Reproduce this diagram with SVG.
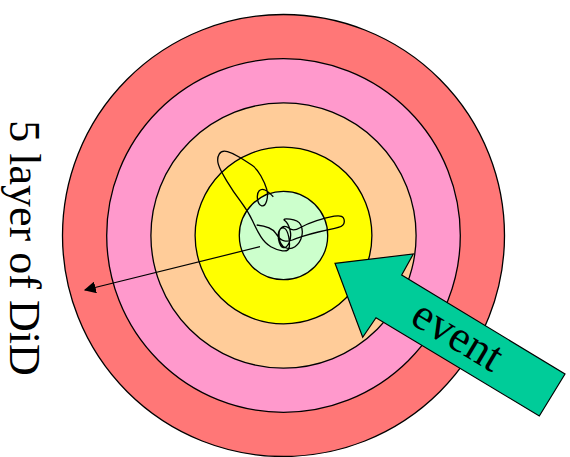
<svg xmlns="http://www.w3.org/2000/svg" width="570" height="457" viewBox="0 0 570 457">
<style>
.ring{stroke:#000;stroke-width:1.3}
.lbl{font-family:"Liberation Serif","Times New Roman",serif;fill:#000}
</style>
<defs>
<marker id="ah" viewBox="0 0 10 10" refX="9" refY="5" markerWidth="12" markerHeight="12" markerUnits="userSpaceOnUse" orient="auto">
<path d="M0,0 L10,5 L0,10 z" fill="#000"/>
</marker>
</defs>
<rect width="570" height="457" fill="#fff"/>
<g id="layers">
<circle id="layer5" class="ring" cx="283.5" cy="235.5" r="221" fill="#FF7777"/>
<circle id="layer4" class="ring" cx="283.5" cy="235.5" r="176.8" fill="#FF99CC"/>
<circle id="layer3" class="ring" cx="283.5" cy="235.5" r="132.6" fill="#FFCC99"/>
<circle id="layer2" class="ring" cx="283.5" cy="235.5" r="88.4" fill="#FFFF00"/>
<circle id="layer1" class="ring" cx="283.5" cy="235.5" r="44.2" fill="#CCFFCC"/>
</g>
<g id="connectors">
<path id="scribble" fill="none" stroke="#000" stroke-width="1.3" d="M273.3,196.7 Q268.3,191.7 265,190 Q261.7,188.3 259.2,190.8 Q256.7,193.3 257.5,199.2 Q258.3,205 261.7,205.8 Q265,206.7 266.7,200.8 Q268.3,195 266.7,189.2 Q265,183.3 260.8,175.8 Q256.7,168.3 251.7,165 Q246.7,161.7 240,157.5 Q233.3,153.3 227.5,151.7 Q221.7,150 219.2,154.2 Q216.7,158.3 218.3,164.2 Q220,170 226.7,180.8 Q233.3,191.7 240.8,201.7 Q248.3,211.7 252.5,220.8 Q256.7,230 260.8,236.7 Q265,243.3 270.8,246.7 Q276.7,250 282.5,250.8 Q288.3,251.7 289.2,247.5 Q290,243.3 288.7,236.7 Q287.3,230 284.5,228.3 Q281.7,226.7 279.5,230 Q277.3,233.3 278.7,240 Q280,246.7 283.3,247.5 Q286.7,248.3 289.2,242.5 Q291.7,236.7 290,230 Q288.3,223.3 285,220.8 Q281.7,218.3 290,219.2 Q298.3,220 300.8,225 Q303.3,230 301.7,236.7 Q300,243.3 295,246.7 Q290,250 285,247.5 Q280,245 279.2,237.5 Q278.3,230 281.7,227.5 Q285,225 289.2,228.3 Q293.3,231.7 300,227.8 Q306.7,224 316.7,220.7 Q326.7,217.3 334.2,216.2 Q341.7,215 343.3,217.8 Q345,220.7 343.8,223.7 Q342.7,226.7 334.7,228.3 Q326.7,230 318.3,232 Q310,234 303.3,236.2 Q296.7,238.3 292.5,240 Q288.3,241.7 284.2,240.8 Q280,240 275.8,233.3 Q271.7,226.7 256.7,225"/>
<line id="spread" x1="260" y1="246.7" x2="85" y2="290" stroke="#000" stroke-width="1.2" marker-end="url(#ah)"/>
</g>
<g id="event">
<polygon points="335,263.3 413.3,254 401.7,275 565,374 539.3,416 376,317.7 362.7,337.3" fill="#00CC99" stroke="#000" stroke-width="1.2"/>
<text class="lbl" font-size="45" text-anchor="middle" transform="translate(455,340) rotate(31)" y="9">event</text>
</g>
<g id="title">
<text class="lbl" font-size="44" text-anchor="middle" transform="translate(9.5,248) rotate(90)">5 layer of DiD</text>
</g>
</svg>
